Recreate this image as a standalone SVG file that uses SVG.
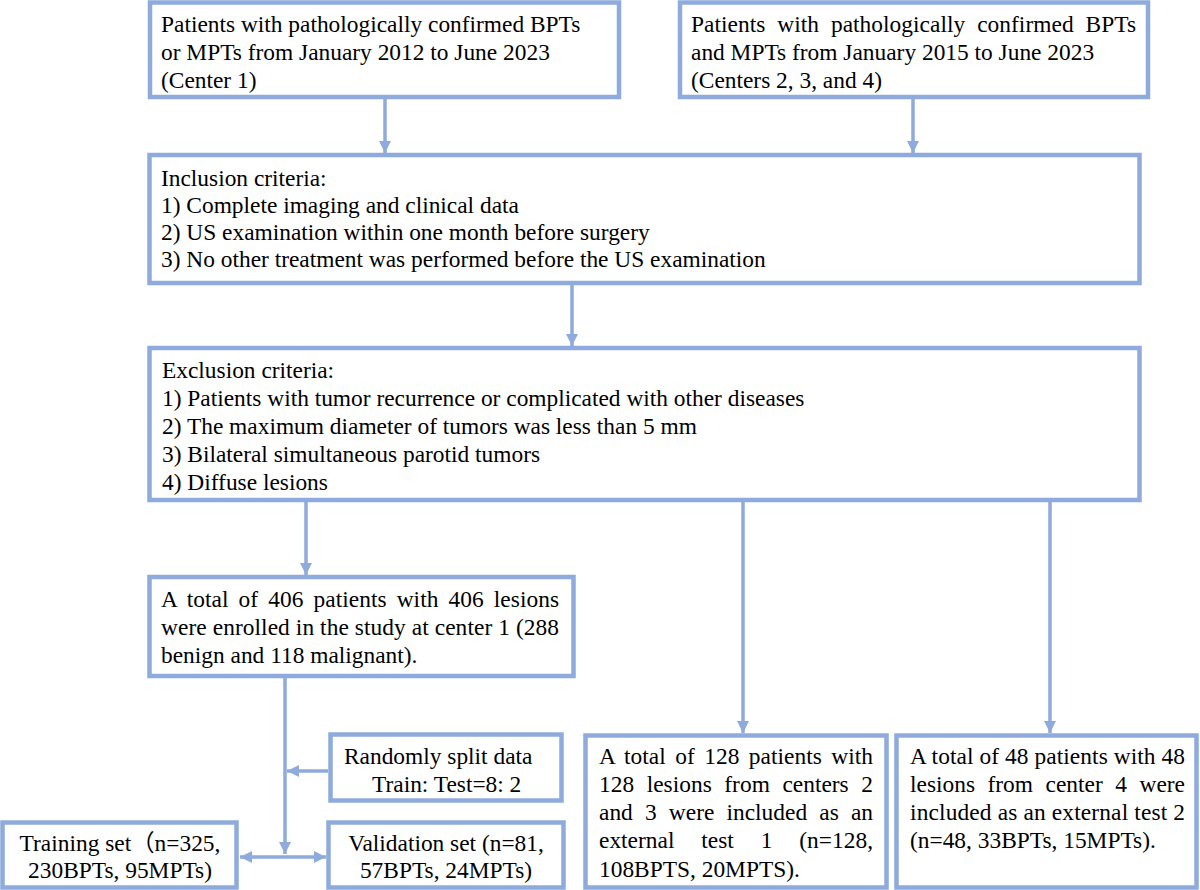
<svg xmlns="http://www.w3.org/2000/svg" width="1200" height="890" viewBox="0 0 1200 890">
  <style>
    .box { fill: #FFFFFF; stroke: #8FAADC; stroke-width: 4.5; }
    .t { font-family: "Liberation Serif", "Times New Roman", "Noto Sans CJK SC", serif; font-size: 23.4px; fill: #000000; }
    .m { text-anchor: middle; }
    .conn { stroke: #8FAADC; stroke-width: 3.5; fill: none; }
  </style>
  <defs>
    <marker id="arr" markerUnits="userSpaceOnUse" markerWidth="14" markerHeight="14" viewBox="0 0 14 14" refX="12" refY="7" orient="auto-start-reverse">
      <path d="M0,1 L12,7 L0,13 Z" fill="#8FAADC"/>
    </marker>
  </defs>
  <rect width="1200" height="890" fill="#FFFFFF"/>

  <g id="connectors">
    <line class="conn" x1="385" y1="99" x2="385" y2="153" marker-end="url(#arr)"/>
    <line class="conn" x1="913" y1="99" x2="913" y2="153" marker-end="url(#arr)"/>
    <line class="conn" x1="572" y1="285" x2="572" y2="346" marker-end="url(#arr)"/>
    <line class="conn" x1="306" y1="502" x2="306" y2="575" marker-end="url(#arr)"/>
    <line class="conn" x1="743" y1="502" x2="743" y2="733" marker-end="url(#arr)"/>
    <line class="conn" x1="1050" y1="502" x2="1050" y2="733" marker-end="url(#arr)"/>
    <line class="conn" x1="285" y1="678" x2="285" y2="854" marker-end="url(#arr)"/>
    <line class="conn" x1="328" y1="771" x2="287" y2="771" marker-end="url(#arr)"/>
    <line class="conn" x1="240" y1="857" x2="326" y2="857" marker-start="url(#arr)" marker-end="url(#arr)"/>
  </g>

  <g id="node-center1">
    <rect class="box" x="150" y="2.5" width="469" height="94.5"/>
    <text class="t" x="161" y="32">Patients with pathologically confirmed BPTs</text>
    <text class="t" x="161" y="60">or MPTs from January 2012 to June 2023</text>
    <text class="t" x="161" y="88">(Center 1)</text>
  </g>

  <g id="node-centers234">
    <rect class="box" x="680" y="2.5" width="468" height="94.5"/>
    <text class="t" x="691" y="32" word-spacing="6" textLength="445" lengthAdjust="spacing">Patients with pathologically confirmed BPTs</text>
    <text class="t" x="691" y="60">and MPTs from January 2015 to June 2023</text>
    <text class="t" x="691" y="88">(Centers 2, 3, and 4)</text>
  </g>

  <g id="node-inclusion">
    <rect class="box" x="149.5" y="155" width="990" height="128"/>
    <text class="t" x="161" y="186">Inclusion criteria:</text>
    <text class="t" x="161" y="213">1) Complete imaging and clinical data</text>
    <text class="t" x="161" y="240">2) US examination within one month before surgery</text>
    <text class="t" x="161" y="267">3) No other treatment was performed before the US examination</text>
  </g>

  <g id="node-exclusion">
    <rect class="box" x="149.5" y="348" width="990" height="152"/>
    <text class="t" x="162" y="378">Exclusion criteria:</text>
    <text class="t" x="162" y="406">1) Patients with tumor recurrence or complicated with other diseases</text>
    <text class="t" x="162" y="434">2) The maximum diameter of tumors was less than 5 mm</text>
    <text class="t" x="162" y="462">3) Bilateral simultaneous parotid tumors</text>
    <text class="t" x="162" y="490">4) Diffuse lesions</text>
  </g>

  <g id="node-center1-enrolled">
    <rect class="box" x="149.5" y="577" width="424" height="99"/>
    <text class="t" x="161" y="607" word-spacing="4.2" textLength="398" lengthAdjust="spacing">A total of 406 patients with 406 lesions</text>
    <text class="t" x="161" y="635" textLength="398" lengthAdjust="spacing">were enrolled in the study at center 1 (288</text>
    <text class="t" x="161" y="663">benign and 118 malignant).</text>
  </g>

  <g id="node-split">
    <rect class="box" x="330.5" y="734.5" width="231" height="66"/>
    <text class="t" x="344" y="764">Randomly split data</text>
    <text class="t" x="372" y="792">Train: Test=8: 2</text>
  </g>

  <g id="node-training">
    <rect class="box" x="2.5" y="822.5" width="234" height="65"/>
    <text class="t m" x="120" y="851">Training set（n=325,</text>
    <text class="t m" x="120" y="878">230BPTs, 95MPTs)</text>
  </g>

  <g id="node-validation">
    <rect class="box" x="328.5" y="822.5" width="235" height="65"/>
    <text class="t m" x="446" y="851">Validation set (n=81,</text>
    <text class="t m" x="446" y="878">57BPTs, 24MPTs)</text>
  </g>

  <g id="node-external1">
    <rect class="box" x="585.5" y="735.5" width="301" height="152"/>
    <text class="t" x="599" y="764" word-spacing="3.5" textLength="274" lengthAdjust="spacing">A total of 128 patients with</text>
    <text class="t" x="599" y="792" word-spacing="6.7" textLength="274" lengthAdjust="spacing">128 lesions from centers 2</text>
    <text class="t" x="599" y="820" word-spacing="6.3" textLength="274" lengthAdjust="spacing">and 3 were included as an</text>
    <text class="t" x="599" y="848" word-spacing="21" textLength="274" lengthAdjust="spacing">external test 1 (n=128,</text>
    <text class="t" x="599" y="877">108BPTS, 20MPTS).</text>
  </g>

  <g id="node-external2">
    <rect class="box" x="896.5" y="735.5" width="300" height="152"/>
    <text class="t" x="910" y="764" textLength="275" lengthAdjust="spacing">A total of 48 patients with 48</text>
    <text class="t" x="910" y="792" word-spacing="6.7" textLength="275" lengthAdjust="spacing">lesions from center 4 were</text>
    <text class="t" x="910" y="820" textLength="275" lengthAdjust="spacing">included as an external test 2</text>
    <text class="t" x="910" y="848">(n=48, 33BPTs, 15MPTs).</text>
  </g>
</svg>
